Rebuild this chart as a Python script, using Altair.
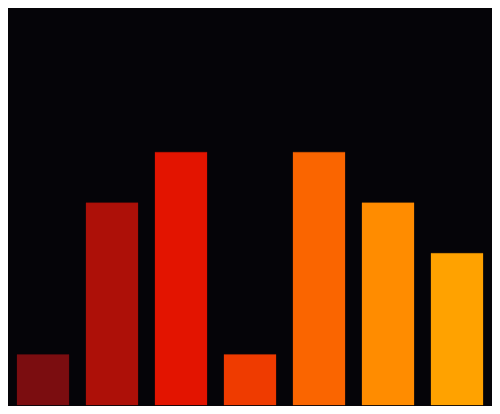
import altair as alt
import pandas as pd

categories = ["A", "B", "C", "D", "E", "F", "G"]
values = [1, 4, 5, 1, 5, 4, 3]
colors = ["#7b0d10", "#ad1008", "#e31400", "#ef3b00", "#fa6500", "#ff8c00", "#ffa200"]

BG = "#050408"

df = pd.DataFrame({"cat": categories, "value": values, "color": colors})

chart = alt.Chart(df).mark_bar(strokeWidth=0.5, strokeOpacity=0.5).encode(
    x=alt.X("cat:N", axis=None, sort=categories,
            scale=alt.Scale(paddingInner=0.2464, paddingOuter=0.1304)),
    y=alt.Y("value:Q", axis=None, scale=alt.Scale(domain=[0, 7.85], nice=False)),
    color=alt.Color("color:N", scale=None, legend=None),
    stroke=alt.Color("color:N", scale=None, legend=None),
).properties(
    width=484, height=398, background=BG, padding=0,
    autosize=alt.AutoSizeParams(type="fit", contains="padding"),
).configure_view(stroke=None, fill=BG)

chart.save("out.html", embed_options={"renderer": "svg", "actions": False})
